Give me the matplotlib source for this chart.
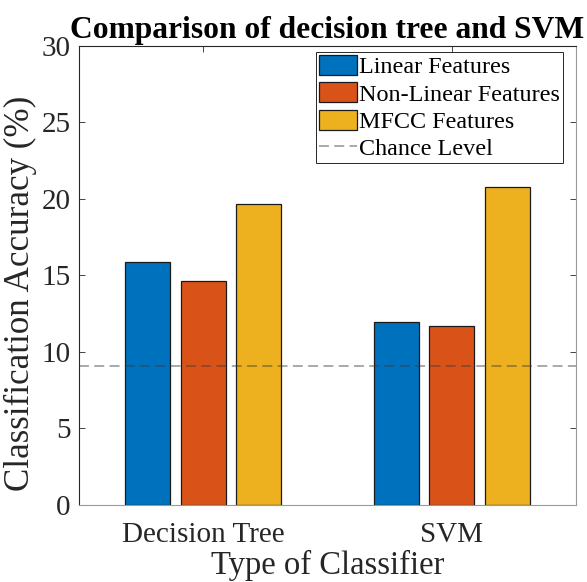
import matplotlib
matplotlib.use('Agg')
import matplotlib.pyplot as plt
import numpy as np

classifiers = ['Decision Tree', 'SVM']
series_names = ['Linear Features', 'Non-Linear Features', 'MFCC Features']
linear_acc = [15.9, 11.95]
nonlinear_acc = [14.65, 11.7]
mfcc_acc = [19.7, 20.8]
chance_level = 9.09
yticks = [0, 5, 10, 15, 20, 25, 30]

colours = ['#0072BD', '#D95319', '#EDB120']
text_col = '#262626'

plt.rcParams['font.family'] = ['Liberation Serif', 'DejaVu Serif']

fig = plt.figure(figsize=(5.87, 5.82), dpi=100)
ax = fig.add_axes([0.1346, 0.1323, 0.9813 - 0.1346, 0.921 - 0.1323])

x = np.arange(1, len(classifiers) + 1)
width = 0.18
offset = 0.223
handles = []
for i, (vals, name) in enumerate(zip([linear_acc, nonlinear_acc, mfcc_acc], series_names)):
    b = ax.bar(x + (i - 1) * offset, vals, width, color=colours[i], edgecolor='#1a1a1a',
               linewidth=0.9, label=name, zorder=2)
    handles.append(b)

chance = ax.axhline(chance_level, color='#3a3a3a', linestyle=(0, (6.5, 3.5)), linewidth=1.1,
                    alpha=0.55, label='Chance Level', zorder=3)
handles.append(chance)

ax.set_xlim(0.5, 2.5)
ax.set_ylim(0, 30)
ax.set_xticks(x)
ax.set_xticklabels(classifiers)
ax.set_yticks(yticks)
ax.tick_params(direction='in', length=4, width=0.6, colors=text_col, labelsize=21,
               top=True, right=True, pad=6)
ax.tick_params(axis='x', pad=12)
for side in ['left', 'top']:
    ax.spines[side].set_color(text_col)
for side in ['right', 'bottom']:
    ax.spines[side].set_color('#999999')
for s in ax.spines.values():
    s.set_linewidth(0.8)

ax.set_title('Comparison of decision tree and SVM', fontsize=22.7, fontweight='bold',
             color='black', pad=6)
ax.set_ylabel('Classification Accuracy (%)', fontsize=25.2, color=text_col, labelpad=3)
ax.yaxis.label.set_y(0.462)
ax.set_xlabel('Type of Classifier', fontsize=23.5, color=text_col, labelpad=1.5)

# legend box pinned to where it sits in the original
leg = ax.legend(handles=handles, loc='upper right', bbox_to_anchor=(0.974, 0.987),
                borderaxespad=0, fontsize=17.4, frameon=True, fancybox=False,
                edgecolor=text_col, framealpha=1, handlelength=1.57, handleheight=0.9,
                handletextpad=0.08, labelspacing=0.16, borderpad=0.13)
leg.get_frame().set_linewidth(0.7)
for t in leg.get_texts():
    t.set_color('black')

fig.savefig('out.png', dpi=100)
